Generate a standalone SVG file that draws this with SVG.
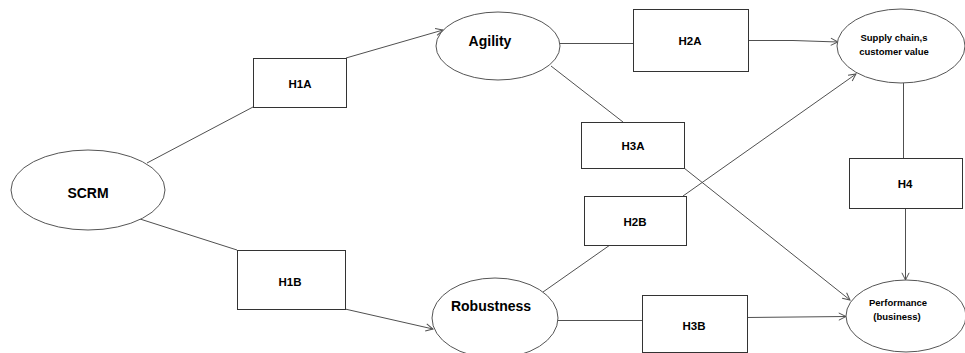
<svg xmlns="http://www.w3.org/2000/svg" width="965" height="353" viewBox="0 0 965 353">
  <style>
    .node-ellipse { fill: #ffffff; stroke: #555555; stroke-width: 1; }
    .node-rect { fill: #ffffff; stroke: #333333; stroke-width: 1; }
    .edge { fill: none; stroke: #505050; stroke-width: 1; }
    .lbl { font-family: "Liberation Sans", Arial, sans-serif; font-weight: bold; fill: #000000; text-anchor: middle; }
    .big { font-size: 14px; }
    .mid { font-size: 11.5px; }
    .small { font-size: 9.5px; }
  </style>
  <defs>
    <marker id="arrow" viewBox="0 0 10 10" refX="9" refY="5" markerWidth="9" markerHeight="9" orient="auto" markerUnits="userSpaceOnUse">
      <path d="M1,1 L9,5 L1,9" fill="none" stroke="#505050" stroke-width="1.1"/>
    </marker>
  </defs>
  <rect width="965" height="353" fill="#ffffff"/>

  <!-- connectors -->
  <g id="connectors">
    <line class="edge" x1="147" y1="163" x2="253" y2="107"/>
    <line class="edge" x1="346" y1="58" x2="443" y2="30" marker-end="url(#arrow)"/>
    <line class="edge" x1="140" y1="219" x2="237" y2="250"/>
    <line class="edge" x1="345" y1="309" x2="433" y2="329" marker-end="url(#arrow)"/>
    <line class="edge" x1="560" y1="43.5" x2="633" y2="43.5"/>
    <polyline class="edge" points="748,40.5 793,40.5 838,42" marker-end="url(#arrow)"/>
    <line class="edge" x1="551" y1="66" x2="623" y2="122"/>
    <line class="edge" x1="684" y1="168" x2="850" y2="300" marker-end="url(#arrow)"/>
    <line class="edge" x1="543" y1="292" x2="610" y2="245"/>
    <line class="edge" x1="683" y1="196" x2="856" y2="74" marker-end="url(#arrow)"/>
    <line class="edge" x1="903.5" y1="83" x2="903.5" y2="158"/>
    <line class="edge" x1="905.5" y1="208" x2="905.5" y2="280" marker-end="url(#arrow)"/>
    <line class="edge" x1="558" y1="320.5" x2="642" y2="320.5"/>
    <line class="edge" x1="747" y1="317.5" x2="846" y2="316.5" marker-end="url(#arrow)"/>
  </g>

  <g id="scrm">
    <ellipse class="node-ellipse" cx="88" cy="190" rx="77" ry="40"/>
    <text class="lbl big" x="88" y="198">SCRM</text>
  </g>
  <g id="h1a">
    <rect class="node-rect" x="253.5" y="58.5" width="93" height="49"/>
    <text class="lbl mid" x="300" y="88">H1A</text>
  </g>
  <g id="h1b">
    <rect class="node-rect" x="237.5" y="250.5" width="108" height="59"/>
    <text class="lbl mid" x="290" y="286">H1B</text>
  </g>
  <g id="agility">
    <ellipse class="node-ellipse" cx="498" cy="46" rx="62" ry="34"/>
    <text class="lbl big" x="490" y="46">Agility</text>
  </g>
  <g id="robustness">
    <ellipse class="node-ellipse" cx="495" cy="318" rx="63" ry="40"/>
    <text class="lbl big" x="491" y="311">Robustness</text>
  </g>
  <g id="h2a">
    <rect class="node-rect" x="633.5" y="9.5" width="115" height="62"/>
    <text class="lbl mid" x="690" y="45">H2A</text>
  </g>
  <g id="h3a">
    <rect class="node-rect" x="581.5" y="122.5" width="103" height="46"/>
    <text class="lbl mid" x="633" y="150">H3A</text>
  </g>
  <g id="h2b">
    <rect class="node-rect" x="584.5" y="196.5" width="102" height="49"/>
    <text class="lbl mid" x="635" y="226">H2B</text>
  </g>
  <g id="h3b">
    <rect class="node-rect" x="642.5" y="295.5" width="105" height="57"/>
    <text class="lbl mid" x="694" y="330">H3B</text>
  </g>
  <g id="h4">
    <rect class="node-rect" x="849.5" y="158.5" width="113" height="50"/>
    <text class="lbl mid" x="905" y="188">H4</text>
  </g>
  <g id="customer-value">
    <ellipse class="node-ellipse" cx="901" cy="46" rx="64" ry="37"/>
    <text class="lbl small" x="894" y="41">Supply chain,s</text>
    <text class="lbl small" x="894" y="55">customer value</text>
  </g>
  <g id="performance">
    <ellipse class="node-ellipse" cx="906" cy="316" rx="60" ry="36"/>
    <text class="lbl small" x="898" y="306">Performance</text>
    <text class="lbl small" x="897" y="320">(business)</text>
  </g>
</svg>
